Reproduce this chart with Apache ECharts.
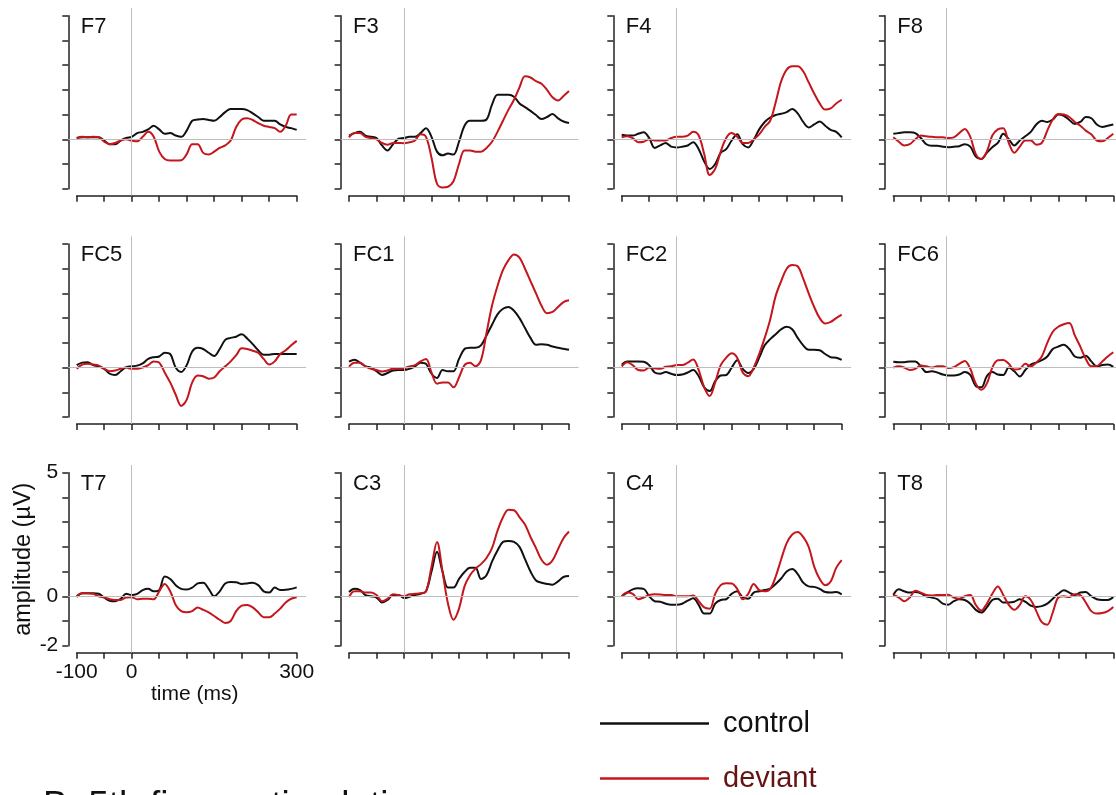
<!DOCTYPE html>
<html>
<head>
<meta charset="utf-8">
<script src="https://cdn.jsdelivr.net/npm/echarts@6/dist/echarts.min.js"></script>
<style>
html,body{margin:0;padding:0;background:#fff;}
#chart{width:1116px;height:795px;}
</style>
</head>
<body>
<div id="chart"></div>
<script>
// ---------------- DATA ----------------
const timeMs = [-100,-90,-80,-70,-60,-50,-40,-30,-20,-10,0,10,20,30,40,50,60,70,80,90,100,110,120,130,140,150,160,170,180,190,200,210,220,230,240,250,260,270,280,290,300];
const channels = ['F7','F3','F4','F8','FC5','FC1','FC2','FC6','T7','C3','C4','T8'];
const seriesNames = ['control','deviant'];
const xTickLabels = ['-100','0','300'];
const yTickLabels = ['5','0','-2'];

const control_F7 = [0.05,0.08,0.08,0.08,0.08,-0.05,-0.2,-0.2,-0.05,0.05, 0.1,0.25,0.3,0.4,0.55,0.4,0.22,0.25,0.15,0.1, 0.35,0.75,0.8,0.82,0.78,0.75,0.9,1.1,1.22,1.22, 1.22,1.18,1.05,0.9,0.75,0.75,0.75,0.6,0.5,0.45, 0.38];
const deviant_F7 = [0.05,0.1,0.08,0.1,0.08,-0.1,-0.2,-0.15,-0.05,0, -0.05,-0.08,0.1,0.3,0.1,-0.5,-0.8,-0.86,-0.86,-0.85, -0.6,-0.2,-0.2,-0.55,-0.62,-0.5,-0.35,-0.25,-0.05,0.5, 0.8,0.85,0.78,0.65,0.55,0.5,0.45,0.3,0.55,1.0, 1.0];

const control_F3 = [0.15,0.25,0.3,0.15,0.1,0.05,-0.25,-0.45,-0.2,0.02, 0.05,0.1,0.1,0.25,0.45,0.1,-0.5,-0.65,-0.58,-0.62, -0.1,0.55,0.75,0.75,0.75,0.8,1.4,1.8,1.8,1.8, 1.72,1.45,1.3,1.15,0.98,0.82,0.9,1.02,0.85,0.72, 0.66];
const deviant_F3 = [0.08,0.25,0.25,0.1,0.05,0.0,-0.15,-0.22,-0.15,-0.15, -0.16,-0.12,-0.05,0.2,0.1,-0.75,-1.8,-1.95,-1.92,-1.7, -1.0,-0.45,-0.45,-0.5,-0.5,-0.35,-0.1,0.3,0.75,1.2, 1.6,2.1,2.55,2.5,2.35,2.25,2.0,1.7,1.57,1.75, 1.95];

const control_F4 = [0.18,0.15,0.15,0.22,0.28,0.05,-0.35,-0.25,-0.15,-0.3, -0.33,-0.3,-0.25,-0.12,-0.4,-0.9,-1.2,-1.0,-0.55,-0.4, -0.05,0.2,-0.2,-0.33,-0.02,0.4,0.7,0.88,0.98,1.03, 1.1,1.22,1.05,0.7,0.48,0.6,0.72,0.55,0.38,0.3, 0.08];
const deviant_F4 = [0.08,0.12,0.05,-0.12,-0.1,0.0,-0.05,-0.05,-0.05,0.05, 0.1,0.1,0.15,0.3,0.15,-0.6,-1.45,-1.2,-0.5,0.05, 0.25,0.1,-0.15,-0.15,0.0,0.2,0.5,0.75,1.5,2.35, 2.82,2.95,2.95,2.75,2.3,1.85,1.45,1.2,1.25,1.45, 1.6];

const control_F8 = [0.22,0.25,0.28,0.28,0.25,0.05,-0.2,-0.26,-0.26,-0.3, -0.32,-0.3,-0.28,-0.2,-0.3,-0.7,-0.8,-0.55,-0.32,-0.15, 0.22,0.0,-0.25,-0.05,0.12,0.3,0.6,0.75,0.7,0.8, 1.0,0.95,0.78,0.62,0.7,0.9,0.85,0.6,0.5,0.55, 0.6];
const deviant_F8 = [0.08,-0.1,-0.25,-0.2,0.0,0.15,0.12,0.1,0.08,0.08, 0.05,0.08,0.25,0.42,0.1,-0.6,-0.8,-0.5,0.15,0.4, 0.45,-0.15,-0.55,-0.3,-0.05,-0.05,-0.22,-0.15,0.35,0.8, 1.02,1.0,0.9,0.7,0.55,0.35,0.2,-0.05,-0.08,0.05, 0.22];

const control_FC5 = [0.1,0.2,0.22,0.1,0.05,-0.05,-0.25,-0.3,-0.15,0.02, 0.05,0.08,0.17,0.35,0.42,0.45,0.6,0.55,0.0,-0.18, 0.1,0.65,0.8,0.75,0.6,0.47,0.75,1.12,1.2,1.25, 1.35,1.18,0.95,0.7,0.52,0.52,0.55,0.55,0.55,0.55, 0.55];
const deviant_FC5 = [-0.05,0.12,0.15,0.12,0.08,-0.05,-0.15,-0.12,-0.05,0.0, -0.05,-0.05,0.0,0.1,0.25,0.2,-0.2,-0.6,-1.1,-1.55, -1.3,-0.6,-0.32,-0.35,-0.45,-0.4,-0.15,0.05,0.25,0.5, 0.78,0.75,0.68,0.6,0.35,0.12,0.25,0.55,0.7,0.9, 1.08];

const control_FC1 = [0.24,0.32,0.2,0.05,0.0,-0.15,-0.3,-0.22,-0.12,-0.1, -0.1,-0.05,0.05,0.2,0.15,-0.25,-0.42,-0.1,-0.15,-0.15, 0.35,0.75,0.8,0.8,0.9,1.3,1.73,2.15,2.38,2.45, 2.3,2.0,1.6,1.2,0.92,0.94,0.92,0.85,0.8,0.76, 0.72];
const deviant_FC1 = [0.04,0.2,0.2,0.05,-0.05,-0.1,-0.16,-0.12,-0.05,-0.05, -0.03,0.05,0.1,0.25,0.35,-0.2,-0.65,-0.6,-0.6,-0.8, -0.4,0.1,0.2,0.05,0.3,1.4,2.5,3.3,3.95,4.35, 4.58,4.45,4.0,3.5,3.0,2.5,2.2,2.25,2.45,2.65, 2.72];

const control_FC2 = [0.12,0.25,0.25,0.25,0.24,0.1,-0.2,-0.25,-0.18,-0.25, -0.3,-0.28,-0.2,-0.1,-0.35,-0.8,-0.95,-0.55,-0.32,-0.3, 0.0,0.3,-0.05,-0.22,-0.05,0.4,0.9,1.15,1.35,1.55, 1.65,1.55,1.2,0.9,0.72,0.72,0.7,0.55,0.42,0.4, 0.31];
const deviant_FC2 = [0.05,0.22,0.1,-0.1,-0.12,0.0,-0.03,-0.05,0.03,0.05, 0.1,0.1,0.2,0.33,-0.1,-0.8,-1.15,-0.6,0.1,0.4, 0.58,0.4,-0.2,-0.35,0.0,0.55,1.2,1.95,2.9,3.5, 4.0,4.15,4.1,3.6,3.0,2.45,2.0,1.78,1.85,2.0, 2.14];

const control_FC6 = [0.24,0.22,0.22,0.25,0.25,0.05,-0.18,-0.15,-0.2,-0.28, -0.32,-0.32,-0.28,-0.18,-0.3,-0.75,-0.8,-0.35,-0.18,-0.28, -0.3,0.0,-0.15,-0.36,-0.1,0.12,0.2,0.3,0.45,0.75, 0.85,0.92,0.75,0.45,0.4,0.48,0.25,0.05,0.1,0.12, 0.03];
const deviant_FC6 = [0.0,0.05,0.0,-0.1,-0.05,0.08,0.05,0.0,0.05,0.05, -0.02,0.02,0.15,0.27,-0.05,-0.65,-0.9,-0.65,0.0,0.3, 0.31,0.15,-0.08,-0.05,0.15,0.05,0.2,0.45,1.0,1.45, 1.65,1.75,1.8,1.3,0.85,0.35,0.05,0.05,0.25,0.45, 0.62];

const control_T7 = [0.0,0.12,0.12,0.12,0.1,-0.05,-0.18,-0.2,-0.1,0.1, 0.05,0.1,0.25,0.3,0.2,0.25,0.8,0.7,0.45,0.3, 0.27,0.35,0.52,0.55,0.3,0.0,0.2,0.52,0.58,0.57, 0.5,0.52,0.55,0.45,0.2,0.15,0.35,0.25,0.26,0.3, 0.36];
const deviant_T7 = [-0.03,0.12,0.12,0.1,0.0,-0.05,-0.12,-0.15,-0.15,-0.05, -0.04,-0.12,-0.1,-0.1,-0.12,0.2,0.5,0.2,-0.35,-0.6, -0.65,-0.6,-0.45,-0.55,-0.65,-0.8,-0.95,-1.08,-1.0,-0.6, -0.38,-0.35,-0.45,-0.65,-0.85,-0.85,-0.7,-0.5,-0.25,-0.1, -0.04];

const control_C3 = [0.17,0.3,0.25,0.05,0.0,-0.05,-0.25,-0.15,0.05,0.05, -0.07,-0.02,0.05,0.1,0.2,1.0,1.8,1.0,0.35,0.35, 0.7,0.98,1.15,1.15,0.7,0.85,1.4,1.85,2.2,2.24, 2.2,2.0,1.5,1.0,0.64,0.55,0.5,0.47,0.6,0.78, 0.82];
const deviant_C3 = [-0.03,0.2,0.2,0.15,0.15,0.05,-0.2,-0.1,0.08,0.05, 0.0,0.08,0.1,0.12,0.2,1.2,2.2,1.0,-0.3,-0.95, -0.5,0.4,0.85,1.12,1.3,1.55,1.95,2.65,3.2,3.5, 3.48,3.2,2.9,2.4,1.95,1.48,1.28,1.45,1.9,2.35, 2.62];

const control_C4 = [0.0,0.15,0.28,0.32,0.3,0.0,-0.2,-0.22,-0.3,-0.34, -0.34,-0.3,-0.18,-0.08,-0.35,-0.7,-0.7,-0.3,-0.15,-0.12, 0.1,0.2,-0.05,-0.1,0.15,0.2,0.25,0.31,0.5,0.72, 1.0,1.1,0.9,0.55,0.4,0.38,0.3,0.17,0.15,0.17, 0.08];
const deviant_C4 = [0.0,0.15,0.1,-0.12,-0.05,0.05,0.08,0.07,0.05,0.05, 0.0,0.0,0.0,0.03,-0.2,-0.45,-0.5,0.1,0.45,0.53, 0.52,0.3,-0.12,0.1,0.5,0.25,0.2,0.3,0.8,1.5, 2.15,2.5,2.6,2.4,2.0,1.2,0.7,0.45,0.6,1.15, 1.46];

const control_T8 = [0.05,0.28,0.2,0.15,0.17,0.12,0.0,-0.05,-0.12,-0.3, -0.34,-0.2,-0.12,-0.15,-0.3,-0.55,-0.66,-0.45,-0.15,-0.1, -0.25,-0.25,-0.22,-0.12,-0.22,-0.38,-0.43,-0.4,-0.3,-0.1, 0.1,0.24,0.15,0.05,0.15,0.17,0.0,-0.12,-0.15,-0.15, -0.03];
const deviant_T8 = [0.05,-0.05,-0.2,-0.05,0.22,0.15,0.05,0.03,0.05,0.05, 0.06,-0.05,-0.1,0.0,0.05,-0.35,-0.58,-0.3,0.1,0.4, 0.05,-0.35,-0.55,-0.35,0.0,-0.15,-0.6,-1.05,-1.15,-0.65, -0.05,0.0,-0.03,0.08,0.05,-0.25,-0.6,-0.7,-0.68,-0.6, -0.43];

const controlData = {F7:control_F7,F3:control_F3,F4:control_F4,F8:control_F8,FC5:control_FC5,FC1:control_FC1,FC2:control_FC2,FC6:control_FC6,T7:control_T7,C3:control_C3,C4:control_C4,T8:control_T8};
const deviantData = {F7:deviant_F7,F3:deviant_F3,F4:deviant_F4,F8:deviant_F8,FC5:deviant_FC5,FC1:deviant_FC1,FC2:deviant_FC2,FC6:deviant_FC6,T7:deviant_T7,C3:deviant_C3,C4:deviant_C4,T8:deviant_T8};

// ---------------- LAYOUT ----------------
const FONT = 'Liberation Sans, Arial, Helvetica, sans-serif';
const COLS = [76.7, 349, 621.7, 893.3];
const ROWS = [15.7, 244, 472.7];
const PW = 220, PH = 173;
const X_OFF = 7, Y_OFF = 8.4;
const REF_L = 8.4, REF_R = 9.5, REF_T = 7.7;
const pxPerMs = PW / 400, pxPerUV = PH / 7;
const AXIS_COLOR = '#222';
const CONTROL_COLOR = '#111111';
const DEVIANT_COLOR = '#c4161c';

const grids = [], xAxes = [], yAxes = [], series = [], titles = [];

channels.forEach((ch, i) => {
  const r = Math.floor(i / 4), c = i % 4;
  const left = COLS[c], top = ROWS[r];
  const corner = ch === 'T7';
  const gA = grids.length;
  grids.push({left: left, top: top, width: PW, height: PH});
  grids.push({left: left - REF_L, top: top - REF_T, width: PW + REF_L + REF_R, height: PH + REF_T + X_OFF});

  const axisLine = {show: true, onZero: false, lineStyle: {color: AXIS_COLOR, width: 1.5}};
  const axisTick = {show: true, length: 6, inside: false, lineStyle: {color: AXIS_COLOR, width: 1.5}};

  xAxes.push({
    gridIndex: gA, type: 'value', position: 'bottom', min: -100, max: 300, interval: 50, offset: X_OFF,
    axisLine: axisLine, axisTick: axisTick, splitLine: {show: false},
    axisLabel: {show: corner, margin: 9, fontSize: 21, color: '#111', fontFamily: FONT,
      formatter: v => xTickLabels.includes(String(v)) ? String(v) : ''},
    name: corner ? 'time (ms)' : '', nameLocation: 'middle', nameGap: 24,
    nameTextStyle: {fontSize: 21, color: '#111', fontFamily: FONT, padding: [0, 0, 0, 16]}
  });
  yAxes.push({
    gridIndex: gA, type: 'value', position: 'left', min: -2, max: 5, interval: 1, offset: Y_OFF,
    axisLine: axisLine, axisTick: axisTick, splitLine: {show: false},
    axisLabel: {show: corner, margin: 10, fontSize: 21, color: '#111', fontFamily: FONT,
      formatter: v => yTickLabels.includes(String(v)) ? String(v) : ''},
    name: corner ? 'amplitude (µV)' : '', nameLocation: 'middle', nameRotate: 90, nameGap: 32,
    nameTextStyle: {fontSize: 23.5, color: '#111', fontFamily: FONT}
  });
  // reference (zero lines) coordinate system: same scale, slightly larger extent
  xAxes.push({gridIndex: gA + 1, type: 'value', show: false,
    min: -100 - REF_L / pxPerMs, max: 300 + REF_R / pxPerMs, splitLine: {show: false}});
  yAxes.push({gridIndex: gA + 1, type: 'value', show: false,
    min: -2 - X_OFF / pxPerUV, max: 5 + REF_T / pxPerUV, splitLine: {show: false}});

  series.push({
    type: 'line', xAxisIndex: gA + 1, yAxisIndex: gA + 1, data: [[0, 0]],
    symbol: 'none', lineStyle: {opacity: 0}, silent: true, z: 1,
    markLine: {silent: true, symbol: 'none', animation: false, label: {show: false},
      lineStyle: {color: '#bdbdbd', width: 1, type: 'solid'},
      data: [{yAxis: 0}, {xAxis: 0}]}
  });

  const ctrl = controlData[ch], dev = deviantData[ch];
  series.push({
    name: seriesNames[0], type: 'line', xAxisIndex: gA, yAxisIndex: gA,
    data: timeMs.map((t, k) => [t, ctrl[k]]), showSymbol: false, symbol: 'none',
    smooth: 0.35, z: 3, color: CONTROL_COLOR,
    lineStyle: {color: CONTROL_COLOR, width: 2}, itemStyle: {color: CONTROL_COLOR}
  });
  series.push({
    name: seriesNames[1], type: 'line', xAxisIndex: gA, yAxisIndex: gA,
    data: timeMs.map((t, k) => [t, dev[k]]), showSymbol: false, symbol: 'none',
    smooth: 0.35, z: 4, color: DEVIANT_COLOR,
    lineStyle: {color: DEVIANT_COLOR, width: 2}, itemStyle: {color: DEVIANT_COLOR}
  });

  titles.push({text: ch, left: left + 4, top: top, padding: 0,
    textStyle: {fontSize: 22, fontWeight: 'normal', color: '#111', fontFamily: FONT}});
});

titles.push({text: 'B. 5th finger stimulation', left: 43, top: 788, padding: 0,
  textStyle: {fontSize: 37, fontWeight: 'normal', color: '#111', fontFamily: FONT}});

const legendBase = {
  orient: 'horizontal', left: 600, itemWidth: 109, itemHeight: 2.5, icon: 'rect',
  padding: 0, selectedMode: false
};

const chart = echarts.init(document.getElementById('chart'), null, {renderer: 'canvas'});
chart.setOption({
  animation: false,
  backgroundColor: '#ffffff',
  textStyle: {fontFamily: FONT},
  title: titles,
  legend: [
    Object.assign({}, legendBase, {top: 707, data: [seriesNames[0]],
      textStyle: {fontSize: 29, fontFamily: FONT, color: '#111', padding: [0, 0, 0, 9], lineHeight: 33}}),
    Object.assign({}, legendBase, {top: 762, data: [seriesNames[1]],
      textStyle: {fontSize: 29, fontFamily: FONT, color: '#641414', padding: [0, 0, 0, 9], lineHeight: 33}})
  ],
  grid: grids,
  xAxis: xAxes,
  yAxis: yAxes,
  series: series
});
</script>
</body>
</html>
